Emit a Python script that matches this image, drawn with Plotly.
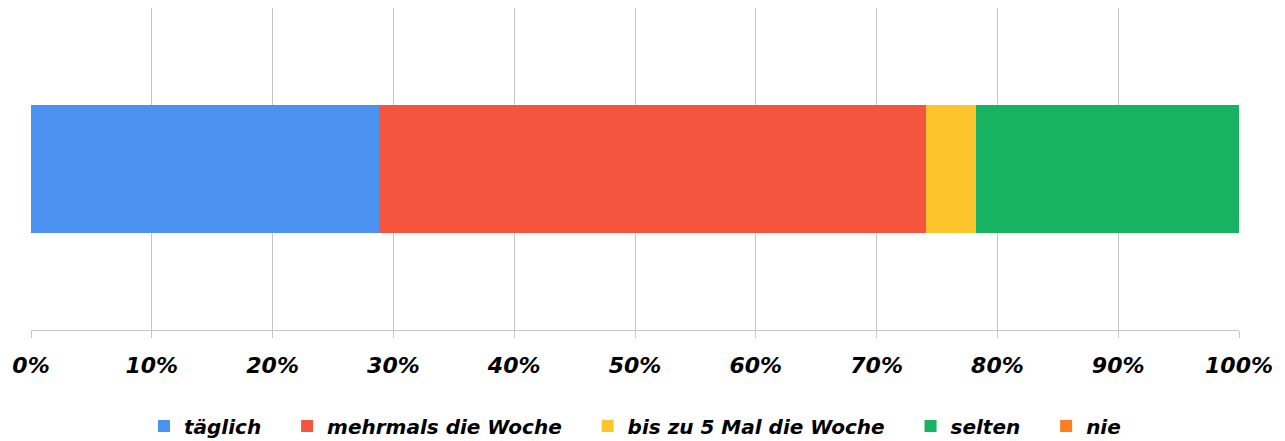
import plotly.graph_objects as go

categories = [""]
series_names = ["täglich", "mehrmals die Woche", "bis zu 5 Mal die Woche", "selten", "nie"]
series_values = [28.8, 45.3, 4.1, 21.8, 0.0]
series_colors = ["#4b91f0", "#f5553f", "#fbc52b", "#17b262", "#fd7e22"]
tick_vals = [0, 10, 20, 30, 40, 50, 60, 70, 80, 90, 100]
tick_text = ["0%", "10%", "20%", "30%", "40%", "50%", "60%", "70%", "80%", "90%", "100%"]

FONT = "DejaVu Sans"
PAD = "\u00a0\u00a0\u00a0"

fig = go.Figure()
n = len(series_names)
for i, (name, val, col) in enumerate(zip(series_names, series_values, series_colors)):
    fig.add_trace(go.Bar(
        x=[val], y=categories, name=name + (PAD if i < n - 1 else ""), orientation="h",
        marker=dict(color=col, line=dict(width=0)),
        width=0.4,
    ))

fig.update_layout(
    barmode="stack",
    width=1277, height=433,
    margin=dict(l=23, r=46, t=0, b=111, autoexpand=False),
    plot_bgcolor="white", paper_bgcolor="white",
    font=dict(family=FONT, size=22, color="#000000", weight=700, style="italic"),
    xaxis=dict(
        range=[0, 100], tickvals=tick_vals, ticktext=tick_text,
        showgrid=True, gridcolor="#c6c6c6", gridwidth=1.4,
        showline=True, linecolor="#c6c6c6", linewidth=1.4,
        ticks="outside", ticklen=7, tickcolor="#c6c6c6", tickwidth=1.4,
        zeroline=False, automargin=False, ticklabelstandoff=8,
        tickfont=dict(family=FONT, size=22, weight=700, style="italic", color="#000000"),
    ),
    yaxis=dict(range=[-0.5, 0.5], showticklabels=False, showgrid=False,
               zeroline=False, showline=False, automargin=False),
    legend=dict(
        orientation="h", x=0.5, xanchor="center", y=-0.298, yanchor="middle",
        font=dict(family=FONT, size=20, weight=700, style="italic", color="#000000"),
        traceorder="normal",
    ),
    bargap=0,
)

fig.write_html("out.html")
